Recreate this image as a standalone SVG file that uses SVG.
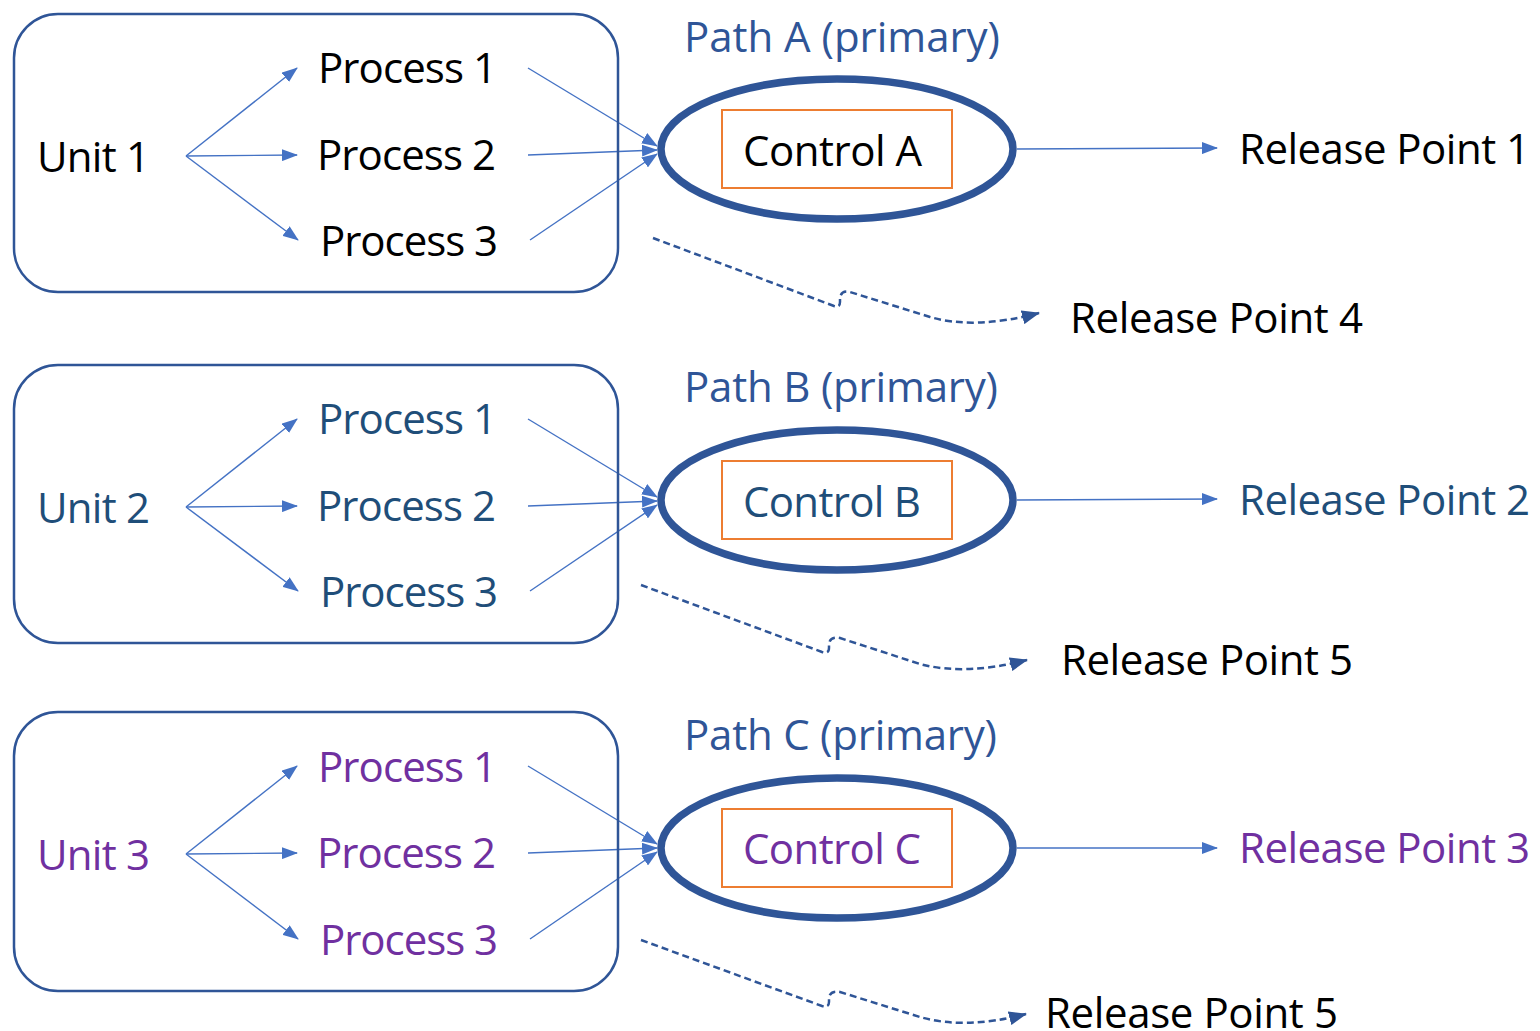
<svg xmlns="http://www.w3.org/2000/svg" width="1540" height="1031" viewBox="0 0 1540 1031">
<style>
text{font-family:"Open Sans","Noto Sans","Liberation Sans",sans-serif;font-size:42px;lengthAdjust:spacingAndGlyphs}
.box{fill:none;stroke:#2F5597;stroke-width:2.5}
.ell{fill:none;stroke:#2F5597;stroke-width:7.5}
.ctl{fill:none;stroke:#ED7D31;stroke-width:2}
.ln{fill:none;stroke:#4472C4;stroke-width:1.4;marker-end:url(#ah)}
.dash{fill:none;stroke:#2F5597;stroke-width:2.5;stroke-dasharray:7 4;marker-end:url(#dh)}
.k{fill:#000}
.b{fill:#1F4E79}
.p{fill:#7030A0}
.pa{fill:#2F5597}
</style>
<defs>
<marker id="ah" markerUnits="userSpaceOnUse" markerWidth="16" markerHeight="12" refX="15" refY="6" orient="auto"><path d="M0,0 L16,6 L0,12 Z" fill="#4472C4"/></marker>
<marker id="dh" markerUnits="userSpaceOnUse" markerWidth="18" markerHeight="14" refX="17" refY="7" orient="auto"><path d="M0,0 L18,7 L0,14 Z" fill="#2F5597"/></marker>
</defs>
<g id="connectors">
<path class="ln" d="M186,156 L297,68"/><path class="ln" d="M186,156 L297,155"/><path class="ln" d="M186,156 L298,240"/>
<path class="ln" d="M528,68 L657,146"/><path class="ln" d="M528,155 L657,150"/><path class="ln" d="M530,240 L657,154"/>
<path class="ln" d="M1017,149 L1217,148"/>
<path class="dash" d="M653,238 L834,306 Q840,308 840,302 L840,298 Q841,290 850,292 L930,317 Q975,330 1039,313"/>
<path class="ln" d="M186,507 L297,419"/><path class="ln" d="M186,507 L297,506"/><path class="ln" d="M186,507 L298,591"/>
<path class="ln" d="M528,419 L657,497"/><path class="ln" d="M528,506 L657,501"/><path class="ln" d="M530,591 L657,505"/>
<path class="ln" d="M1017,500 L1217,499"/>
<path class="dash" d="M641,585 L822,652 Q829,654 829,648 L829,644 Q830,636 840,638 L920,664 Q965,676 1027,660"/>
<path class="ln" d="M186,854 L297,766"/><path class="ln" d="M186,854 L297,853"/><path class="ln" d="M186,854 L298,939"/>
<path class="ln" d="M528,766 L657,844"/><path class="ln" d="M528,853 L657,848"/><path class="ln" d="M530,939 L657,852"/>
<path class="ln" d="M1017,848 L1217,848"/>
<path class="dash" d="M641,940 L822,1006 Q829,1008 829,1002 L829,998 Q830,990 840,992 L920,1017 Q965,1030 1026,1014"/>
</g>
<g id="unit1-box"><rect class="box" x="14" y="14" width="604" height="278" rx="44"/></g>
<g id="unit1"><text class="k" x="37" y="172" textLength="113">Unit 1</text></g>
<g id="u1-process1"><text class="k" x="318" y="83" textLength="179">Process 1</text></g>
<g id="u1-process2"><text class="k" x="317" y="170" textLength="179">Process 2</text></g>
<g id="u1-process3"><text class="k" x="320" y="256" textLength="178">Process 3</text></g>
<g id="path-a"><text class="pa" x="684" y="52" textLength="316">Path A (primary)</text></g>
<g id="control-a"><ellipse class="ell" cx="837" cy="149" rx="176" ry="70"/><rect class="ctl" x="722" y="110" width="230" height="78"/><text class="k" x="743" y="166" textLength="179">Control A</text></g>
<g id="release1"><text class="k" x="1239" y="164" textLength="291">Release Point 1</text></g>
<g id="release4"><text class="k" x="1070" y="333" textLength="293">Release Point 4</text></g>

<g id="unit2-box"><rect class="box" x="14" y="365" width="604" height="278" rx="44"/></g>
<g id="unit2"><text class="b" x="37" y="523" textLength="113">Unit 2</text></g>
<g id="u2-process1"><text class="b" x="318" y="434" textLength="179">Process 1</text></g>
<g id="u2-process2"><text class="b" x="317" y="521" textLength="179">Process 2</text></g>
<g id="u2-process3"><text class="b" x="320" y="607" textLength="178">Process 3</text></g>
<g id="path-b"><text class="pa" x="684" y="402" textLength="314">Path B (primary)</text></g>
<g id="control-b"><ellipse class="ell" cx="837" cy="500" rx="176" ry="70"/><rect class="ctl" x="722" y="461" width="230" height="78"/><text class="b" x="743" y="517" textLength="178">Control B</text></g>
<g id="release2"><text class="b" x="1239" y="515" textLength="291">Release Point 2</text></g>
<g id="release5a"><text class="k" x="1061" y="675" textLength="292">Release Point 5</text></g>

<g id="unit3-box"><rect class="box" x="14" y="712" width="604" height="279" rx="44"/></g>
<g id="unit3"><text class="p" x="37" y="870" textLength="113">Unit 3</text></g>
<g id="u3-process1"><text class="p" x="318" y="782" textLength="179">Process 1</text></g>
<g id="u3-process2"><text class="p" x="317" y="868" textLength="179">Process 2</text></g>
<g id="u3-process3"><text class="p" x="320" y="955" textLength="178">Process 3</text></g>
<g id="path-c"><text class="pa" x="684" y="750" textLength="313">Path C (primary)</text></g>
<g id="control-c"><ellipse class="ell" cx="837" cy="848" rx="176" ry="70"/><rect class="ctl" x="722" y="809" width="230" height="78"/><text class="p" x="743" y="864" textLength="178">Control C</text></g>
<g id="release3"><text class="p" x="1239" y="863" textLength="291">Release Point 3</text></g>
<g id="release5b"><text class="k" x="1045" y="1028" textLength="293">Release Point 5</text></g>
</svg>
